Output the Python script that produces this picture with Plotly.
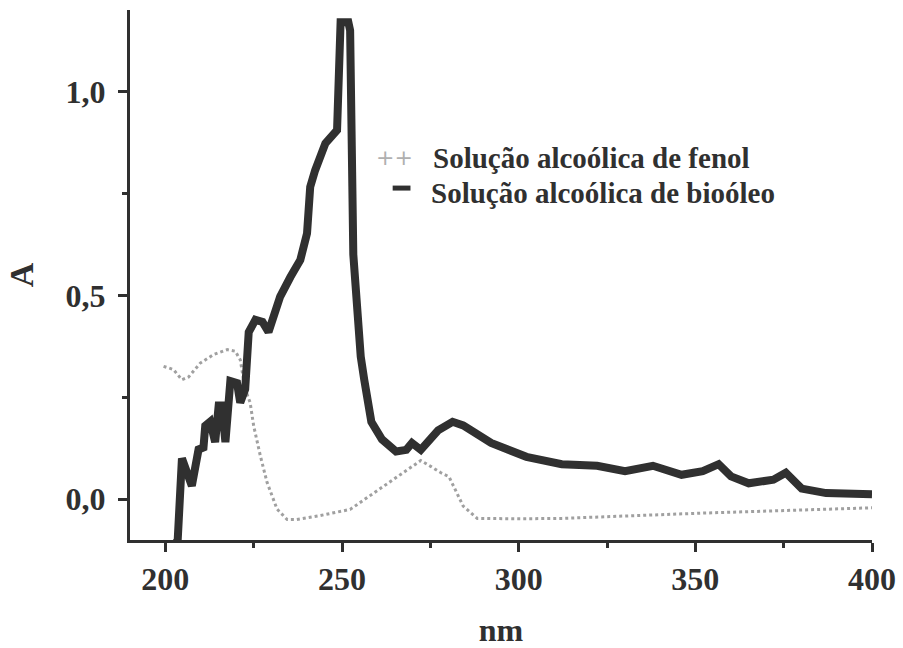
import plotly.graph_objects as go

# Wavelength (nm) and absorbance readings for each solution
bio_nm = [200, 202, 203.5, 204.7, 207.5, 209.4, 210.8, 211.3, 212.7, 214.1, 215.1,
          216.0, 217.0, 218.4, 220.3, 221.2, 222.6, 223.6, 225.5, 227.5, 229.2,
          232.5, 235.4, 238.2, 240.1, 241.0, 242.4, 245.3, 248.6, 249.0, 249.6,
          251.8, 252.3, 253.2, 254.3, 255.3, 256.3, 258.3, 261.3, 265.3, 268.2,
          269.8, 272.3, 277.2, 281.3, 284.3, 292.2, 302.2, 312.2, 322.2, 330.1,
          338.0, 346.1, 352.1, 356.6, 360.1, 365.1, 372.1, 375.6, 380.1, 387.0, 400]
bio_abs = [-0.12, -0.12, -0.10, 0.10, 0.033, 0.122, 0.127, 0.18, 0.19, 0.14, 0.23,
           0.23, 0.14, 0.29, 0.285, 0.237, 0.27, 0.41, 0.44, 0.435, 0.41,
           0.497, 0.545, 0.587, 0.652, 0.766, 0.807, 0.873, 0.905, 1.076, 1.17,
           1.17, 1.15, 0.60, 0.45, 0.35, 0.293, 0.19, 0.147, 0.117, 0.121,
           0.138, 0.121, 0.169, 0.19, 0.181, 0.138, 0.104, 0.086, 0.082, 0.069,
           0.082, 0.06, 0.069, 0.086, 0.056, 0.039, 0.048, 0.065, 0.026, 0.015, 0.012]

fenol_nm = [199.5, 202.3, 204.7, 206.6, 209.9, 213.7, 217.5, 219.8, 221.2, 222.6,
            224.0, 225.0, 226.9, 228.8, 231.6, 234.5, 237.0, 243.8, 252.3, 262.3,
            267.3, 272.3, 275.2, 278.0, 280.3, 282.3, 284.3, 288.3, 300.0, 312.2,
            352.1, 400]
fenol_abs = [0.326, 0.318, 0.293, 0.30, 0.334, 0.355, 0.367, 0.363, 0.342, 0.27,
             0.237, 0.18, 0.106, 0.041, -0.024, -0.05, -0.05, -0.04, -0.025, 0.035,
             0.065, 0.095, 0.08, 0.065, 0.055, 0.02, -0.017, -0.047, -0.048, -0.047,
             -0.034, -0.021]

names = ["Solução alcoólica de fenol", "Solução alcoólica de bioóleo"]

x_ticks = [200, 250, 300, 350, 400]
y_ticks = [0.0, 0.5, 1.0]
y_tick_text = ["0,0", "0,5", "1,0"]

SERIF = "Liberation Serif"
INK = "#303030"

fig = go.Figure()

fig.add_trace(go.Scatter(
    x=fenol_nm, y=fenol_abs, mode="lines", name=names[0],
    line=dict(color="#a0a0a0", width=3, dash="dot"),
    showlegend=False,
))
fig.add_trace(go.Scatter(
    x=bio_nm, y=bio_abs, mode="lines", name=names[1],
    line=dict(color=INK, width=8),
    showlegend=False,
))

axis_common = dict(
    showline=True, linecolor=INK, linewidth=3, mirror=False,
    showgrid=False, zeroline=False,
    ticks="outside", ticklen=9, tickwidth=3, tickcolor=INK,
    tickfont=dict(family=SERIF, size=32, color=INK, weight="bold"),
)

fig.update_xaxes(
    range=[190, 400], tickvals=x_ticks,
    minor=dict(dtick=25, tick0=200, ticks="outside", ticklen=5, tickwidth=3, tickcolor=INK),
    ticklabelstandoff=0,
    title=dict(text="<b>nm</b>", font=dict(family=SERIF, size=32, color=INK), standoff=24),
    **axis_common,
)
fig.update_yaxes(
    range=[-0.1, 1.2], tickvals=y_ticks, ticktext=y_tick_text,
    minor=dict(dtick=0.25, tick0=0, ticks="outside", ticklen=5, tickwidth=3, tickcolor=INK),
    ticklabelstandoff=6,
    title=dict(text="<b>A</b>", font=dict(family=SERIF, size=34, color=INK), standoff=22),
    **axis_common,
)

# Legend drawn as annotations beside the curves
fig.add_annotation(x=0.357, y=0.721, xref="paper", yref="paper", xanchor="center", yanchor="middle",
                   text="++", showarrow=False,
                   font=dict(family="DejaVu Sans", size=22, color="#b0b0b0"))
fig.add_annotation(x=0.405, y=0.721, xref="paper", yref="paper", xanchor="left", yanchor="middle",
                   text="<b>" + names[0] + "</b>", showarrow=False,
                   font=dict(family=SERIF, size=29, color=INK))
fig.add_annotation(x=0.403, y=0.655, xref="paper", yref="paper", xanchor="left", yanchor="middle",
                   text="<b>" + names[1] + "</b>", showarrow=False,
                   font=dict(family=SERIF, size=29, color=INK))
fig.add_shape(type="line", xref="paper", yref="paper",
              x0=0.354, x1=0.378, y0=0.664, y1=0.664,
              line=dict(color=INK, width=5))

fig.update_layout(
    width=903, height=648,
    margin=dict(l=130, r=31, t=10, b=108, autoexpand=False),
    paper_bgcolor="white", plot_bgcolor="white",
)

fig.write_html("out.html")
